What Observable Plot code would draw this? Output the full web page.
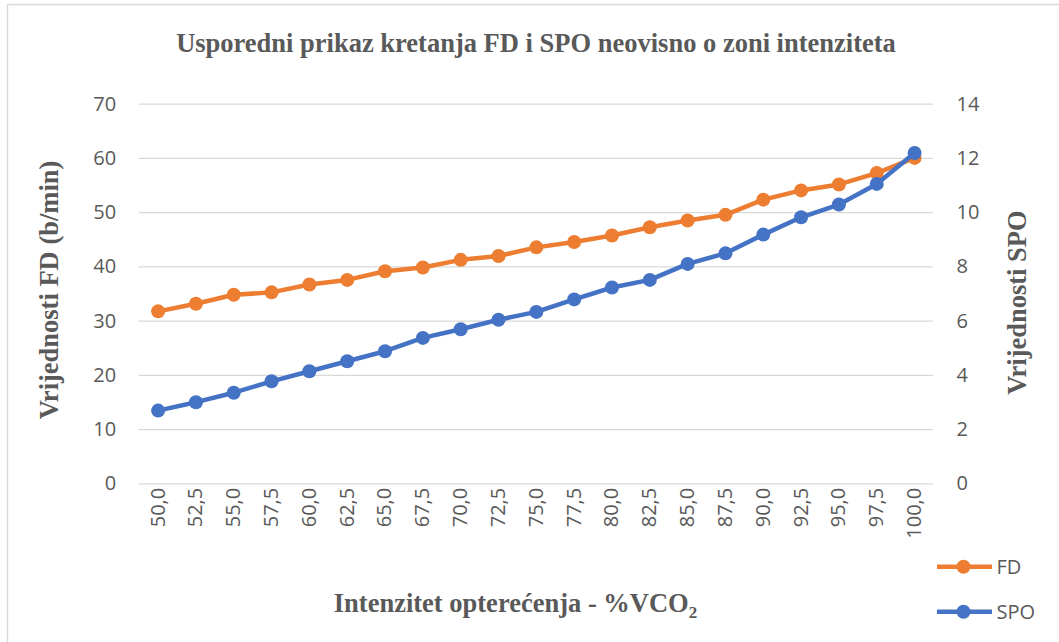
<!DOCTYPE html>
<html>
<head>
<meta charset="utf-8">
<script src="https://cdn.jsdelivr.net/npm/d3@7"></script>
<script src="https://cdn.jsdelivr.net/npm/@observablehq/plot@0.6"></script>
<style>
  body { margin: 0; background: #fff; }
  #chart { width: 1059px; height: 642px; }
</style>
</head>
<body>
<div id="chart"></div>
<script>
// ---- data ----
const categories = ["50,0","52,5","55,0","57,5","60,0","62,5","65,0","67,5","70,0","72,5","75,0","77,5","80,0","82,5","85,0","87,5","90,0","92,5","95,0","97,5","100,0"];
const fdValues  = [31.8,33.2,34.85,35.3,36.75,37.6,39.2,39.9,41.3,42.0,43.6,44.6,45.8,47.3,48.55,49.6,52.4,54.1,55.2,57.3,60.1];
const spoValues = [2.7,3.01,3.36,3.78,4.15,4.52,4.89,5.38,5.7,6.05,6.34,6.8,7.24,7.52,8.11,8.5,9.19,9.83,10.3,11.06,12.2];
const leftTicks  = [0,10,20,30,40,50,60,70];
const rightTicks = [0,2,4,6,8,10,12,14];
const seriesNames = ["FD","SPO"];
const titleText = "Usporedni prikaz kretanja FD i SPO neovisno o zoni intenziteta";
const leftTitle = "Vrijednosti FD (b/min)";
const rightTitle = "Vrijednosti SPO";

// secondary axis maps 0–14 onto the primary 0–70
const ratio = leftTicks[leftTicks.length-1] / rightTicks[rightTicks.length-1];

const fdRows  = categories.map((c,i) => ({cat: c, v: fdValues[i]}));
const spoRows = categories.map((c,i) => ({cat: c, v: spoValues[i] * ratio}));

const ORANGE = "#ED7D31", BLUE = "#4472C4", GRAY = "#595959";
const TICK_FONT = 20;

const plot = Plot.plot({
  width: 1059,
  height: 642,
  marginLeft: 138.7,
  marginRight: 126,
  marginTop: 103.7,
  marginBottom: 158.7,
  style: {color: GRAY, fontFamily: "'Open Sans', sans-serif", fontSize: TICK_FONT + "px", background: "#fff", overflow: "visible"},
  x: {type: "point", domain: categories, padding: 0.5, round: false, axis: null},
  y: {domain: [0, 70], axis: null},
  marks: [
    Plot.gridY(leftTicks, {stroke: "#D9D9D9", strokeOpacity: 1, strokeWidth: 1.3}),
    Plot.axisY(leftTicks, {anchor: "left", tickSize: 0, tickPadding: 23, label: null, fontSize: TICK_FONT}),
    Plot.axisY(rightTicks.map(d => d * ratio), {anchor: "right", tickSize: 0, tickPadding: 23, label: null, tickFormat: d => String(d / ratio), fontSize: TICK_FONT}),
    Plot.axisX(categories, {anchor: "bottom", tickSize: 0, tickPadding: 4, tickRotate: -90, label: null, fontSize: TICK_FONT}),
    Plot.line(fdRows, {x: "cat", y: "v", stroke: ORANGE, strokeWidth: 4.5}),
    Plot.dot(fdRows, {x: "cat", y: "v", r: 7, fill: ORANGE, stroke: "none"}),
    Plot.line(spoRows, {x: "cat", y: "v", stroke: BLUE, strokeWidth: 4.5}),
    Plot.dot(spoRows, {x: "cat", y: "v", r: 7, fill: BLUE, stroke: "none"})
  ]
});
document.getElementById("chart").appendChild(plot);

// ---- decorations: frame, titles, legend ----
const svg = d3.select(plot);
const serif = "'Liberation Serif', 'Times New Roman', serif";

svg.append("line").attr("x1", 7.5).attr("x2", 7.5).attr("y1", 4.5).attr("y2", 700)
  .attr("stroke", "#D9D9D9").attr("stroke-width", 1.5);
svg.append("line").attr("x1", 7.5).attr("x2", 1100).attr("y1", 4.5).attr("y2", 4.5)
  .attr("stroke", "#D9D9D9").attr("stroke-width", 1.5);

svg.append("text").text(titleText)
  .attr("x", 536).attr("y", 52).attr("text-anchor", "middle")
  .attr("font-family", serif).attr("font-weight", "bold").attr("font-size", 26.5).attr("fill", GRAY);

const xt = svg.append("text")
  .attr("x", 515.5).attr("y", 612).attr("text-anchor", "middle")
  .attr("font-family", serif).attr("font-weight", "bold").attr("font-size", 26.5).attr("fill", GRAY);
xt.append("tspan").text("Intenzitet opterećenja - %VCO");
xt.append("tspan").text("2").attr("font-size", 17).attr("dy", 6);

svg.append("text").text(leftTitle)
  .attr("transform", "translate(58,290) rotate(-90)").attr("text-anchor", "middle")
  .attr("font-family", serif).attr("font-weight", "bold").attr("font-size", 26.5).attr("fill", GRAY);

svg.append("text").text(rightTitle)
  .attr("transform", "translate(1025.5,302.5) rotate(-90)").attr("text-anchor", "middle")
  .attr("font-family", serif).attr("font-weight", "bold").attr("font-size", 26.5).attr("fill", GRAY);

const legendY = [566.7, 611.7];
const legendColors = [ORANGE, BLUE];
seriesNames.forEach((name, i) => {
  const g = svg.append("g");
  g.append("line").attr("x1", 937).attr("x2", 992).attr("y1", legendY[i]).attr("y2", legendY[i])
    .attr("stroke", legendColors[i]).attr("stroke-width", 4.5);
  g.append("circle").attr("cx", 963.5).attr("cy", legendY[i]).attr("r", 7).attr("fill", legendColors[i]);
  g.append("text").text(name).attr("x", 996.5).attr("y", legendY[i]).attr("dy", "0.35em")
    .attr("text-anchor", "start")
    .attr("font-family", "'Open Sans', sans-serif").attr("font-size", TICK_FONT).attr("fill", GRAY);
});
</script>
</body>
</html>
